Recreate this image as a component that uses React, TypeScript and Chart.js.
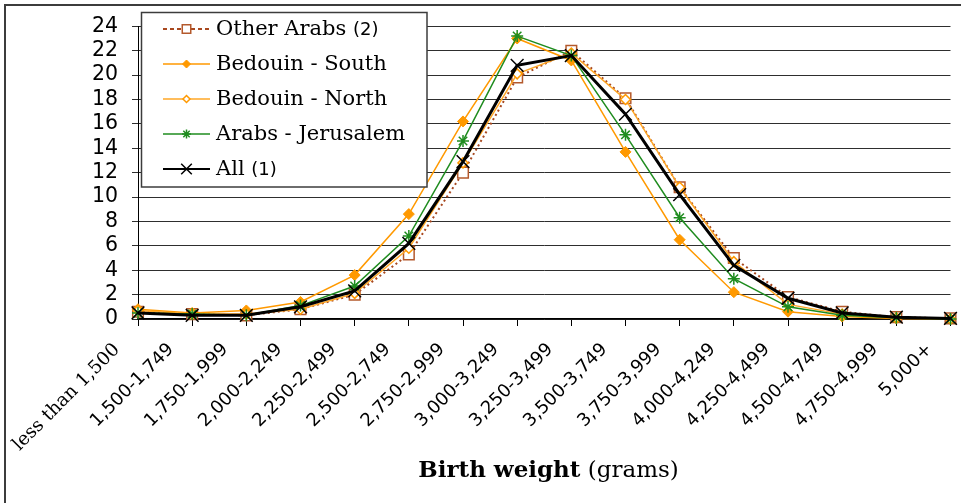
import React, { useEffect, useRef } from 'react';
import { Chart, registerables } from 'chart.js';
import { drawPoint } from 'chart.js/helpers';

Chart.register(...registerables);

const categories = [
  'less than 1,500', '1,500-1,749', '1,750-1,999', '2,000-2,249', '2,250-2,499',
  '2,500-2,749', '2,750-2,999', '3,000-3,249', '3,250-3,499', '3,500-3,749',
  '3,750-3,999', '4,000-4,249', '4,250-4,499', '4,500-4,749', '4,750-4,999', '5,000+',
];

const otherArabs = [0.6, 0.4, 0.3, 0.8, 2.0, 5.3, 12.0, 19.8, 22.0, 18.1, 10.8, 5.0, 1.8, 0.6, 0.15, 0.05];
const bedouinSouth = [0.8, 0.5, 0.7, 1.4, 3.6, 8.6, 16.2, 23.0, 21.2, 13.7, 6.5, 2.2, 0.6, 0.2, 0.05, 0.0];
const bedouinNorth = [0.7, 0.4, 0.4, 0.8, 2.1, 5.8, 12.8, 20.1, 21.8, 18.0, 10.8, 4.7, 1.2, 0.4, 0.1, 0.0];
const arabsJerusalem = [0.5, 0.4, 0.3, 1.1, 2.7, 6.8, 14.6, 23.2, 21.6, 15.1, 8.3, 3.3, 1.0, 0.3, 0.1, 0.0];
const allBirths = [0.5, 0.3, 0.3, 1.0, 2.3, 6.2, 12.9, 20.8, 21.6, 16.8, 10.2, 4.4, 1.7, 0.5, 0.15, 0.05];

const seriesNames = ['Other Arabs', 'Bedouin - South', 'Bedouin - North', 'Arabs - Jerusalem', 'All'];
const seriesNotes = ['(2)', '', '', '', '(1)'];

const yMin = 0;
const yMax = 24;
const yStep = 2;

const axisTitleBold = 'Birth weight';
const axisTitleRest = '(grams)';

const frameAndLegend = {
  id: 'frameAndLegend',
  beforeDraw(chart: any) {
    const ctx = chart.ctx;
    ctx.save();
    ctx.fillStyle = '#fff';
    ctx.fillRect(0, 0, chart.width, chart.height);
    ctx.strokeStyle = '#3c3c3c';
    ctx.lineWidth = 2;
    ctx.beginPath();
    ctx.moveTo(5, chart.height + 2);
    ctx.lineTo(5, 5);
    ctx.lineTo(chart.width + 2, 5);
    ctx.stroke();
    ctx.restore();
  },
  afterDraw(chart: any) {
    const ctx = chart.ctx;
    ctx.save();
    const bx = 141.5, by = 12.5, bw = 285.5, bh = 174.5;
    ctx.fillStyle = '#fff';
    ctx.fillRect(bx, by, bw, bh);
    ctx.strokeStyle = '#3c3c3c';
    ctx.lineWidth = 1.5;
    ctx.strokeRect(bx, by, bw, bh);
    const dsList = chart.data.datasets;
    dsList.forEach((ds: any, i: number) => {
      const y = 29 + i * 35;
      ctx.save();
      ctx.strokeStyle = ds.borderColor;
      ctx.lineWidth = Math.min(ds.borderWidth, 2);
      ctx.setLineDash(ds.legendDash || []);
      ctx.beginPath();
      ctx.moveTo(163, y);
      ctx.lineTo(210, y);
      ctx.stroke();
      ctx.setLineDash([]);
      ctx.strokeStyle = ds.pointBorderColor;
      ctx.fillStyle = ds.pointBackgroundColor;
      ctx.lineWidth = ds.pointBorderWidth;
      drawPoint(ctx, {
        pointStyle: ds.pointStyle,
        rotation: 0,
        radius: ds.pointRadius - 1.5,
        borderWidth: ds.pointBorderWidth,
      } as any, 186.5, y);
      ctx.restore();
      ctx.fillStyle = '#000';
      ctx.textBaseline = 'middle';
      ctx.textAlign = 'left';
      ctx.font = "21px 'DejaVu Serif'";
      const name = seriesNames[i];
      ctx.fillText(name, 216, y + 1);
      const w = ctx.measureText(name + ' ').width;
      if (seriesNotes[i]) {
        ctx.font = "18px 'DejaVu Sans'";
        ctx.fillText(seriesNotes[i], 216 + w, y + 1);
      }
    });
    ctx.restore();
  },
};

export default function App() {
  const canvasRef = useRef<HTMLCanvasElement | null>(null);

  useEffect(() => {
    if (!canvasRef.current) return;
    const chart = new Chart(canvasRef.current, {
      type: 'line',
      data: {
        labels: categories,
        datasets: [
          {
            label: seriesNames[0] + ' ' + seriesNotes[0],
            data: otherArabs,
            borderColor: '#a8481f',
            borderWidth: 2,
            borderDash: [2, 3],
            legendDash: [4, 3],
            pointStyle: 'rect',
            pointRadius: 7.5,
            pointBorderColor: '#b4592c',
            pointBackgroundColor: '#ffffff',
            pointBorderWidth: 1.5,
            order: 5,
          } as any,
          {
            label: seriesNames[1],
            data: bedouinSouth,
            borderColor: '#ff9900',
            borderWidth: 1.5,
            pointStyle: 'rectRot',
            pointRadius: 5.5,
            pointBorderColor: '#ff9900',
            pointBackgroundColor: '#ff9900',
            pointBorderWidth: 1,
            order: 4,
          } as any,
          {
            label: seriesNames[2],
            data: bedouinNorth,
            borderColor: '#ffa726',
            borderWidth: 1.5,
            pointStyle: 'rectRot',
            pointRadius: 5,
            pointBorderColor: '#ff9900',
            pointBackgroundColor: '#ffffff',
            pointBorderWidth: 1.5,
            order: 3,
          } as any,
          {
            label: seriesNames[3],
            data: arabsJerusalem,
            borderColor: '#1f8c1f',
            borderWidth: 1.5,
            pointStyle: 'star',
            pointRadius: 6,
            pointBorderColor: '#1f8c1f',
            pointBackgroundColor: '#1f8c1f',
            pointBorderWidth: 1.5,
            order: 2,
          } as any,
          {
            label: seriesNames[4] + ' ' + seriesNotes[4],
            data: allBirths,
            borderColor: '#000000',
            borderWidth: 3,
            pointStyle: 'crossRot',
            pointRadius: 9,
            pointBorderColor: '#000000',
            pointBackgroundColor: '#000000',
            pointBorderWidth: 1.5,
            order: 1,
          } as any,
        ],
      },
      options: {
        animation: false,
        responsive: false,
        devicePixelRatio: 1,
        clip: false as any,
        layout: { padding: { top: 25, right: 2, bottom: 0, left: 0 } },
        elements: { line: { tension: 0 } },
        plugins: {
          legend: { display: false },
          tooltip: { enabled: false },
          title: { display: false },
        },
        scales: {
          x: {
            type: 'category',
            offset: false,
            grid: {
              display: true,
              drawOnChartArea: false,
              drawTicks: true,
              tickLength: 7,
              color: '#000',
              lineWidth: 1,
            },
            border: { display: true, color: '#000', width: 1.5 },
            ticks: {
              autoSkip: false,
              minRotation: 45,
              maxRotation: 45,
              padding: 13,
              labelOffset: -21,
              color: '#000',
              font: (c: any) =>
                c.index === 0
                  ? { family: "'DejaVu Serif'", size: 18.5 }
                  : { family: "'DejaVu Sans'", size: 18 },
            },
            afterFit: (scale: any) => {
              scale.height = 184;
              scale.paddingLeft = 0;
              scale.paddingRight = 0;
            },
          },
          y: {
            min: yMin,
            max: yMax,
            grid: {
              color: '#2e2e2e',
              lineWidth: 1,
              drawTicks: true,
              tickLength: 6,
            },
            border: { display: true, color: '#000', width: 1 },
            ticks: {
              stepSize: yStep,
              autoSkip: false,
              padding: 14,
              color: '#000',
              font: { family: "'DejaVu Sans'", size: 20.5 },
            },
            afterFit: (scale: any) => {
              scale.width = 138;
            },
          },
        },
      },
      plugins: [frameAndLegend],
    });
    return () => chart.destroy();
  }, []);

  return (
    <div style={{ position: 'absolute', left: 0, top: 0, width: 961, height: 503, background: '#fff', overflow: 'hidden' }}>
      <canvas ref={canvasRef} width={961} height={503} style={{ display: 'block' }} />
      <div
        style={{
          position: 'absolute',
          left: 138,
          width: 821,
          top: 457,
          textAlign: 'center',
          fontFamily: "'DejaVu Serif'",
          fontSize: 23,
          lineHeight: '23px',
          color: '#000',
          whiteSpace: 'nowrap',
        }}
      >
        <b>{axisTitleBold}</b> {axisTitleRest}
      </div>
    </div>
  );
}
